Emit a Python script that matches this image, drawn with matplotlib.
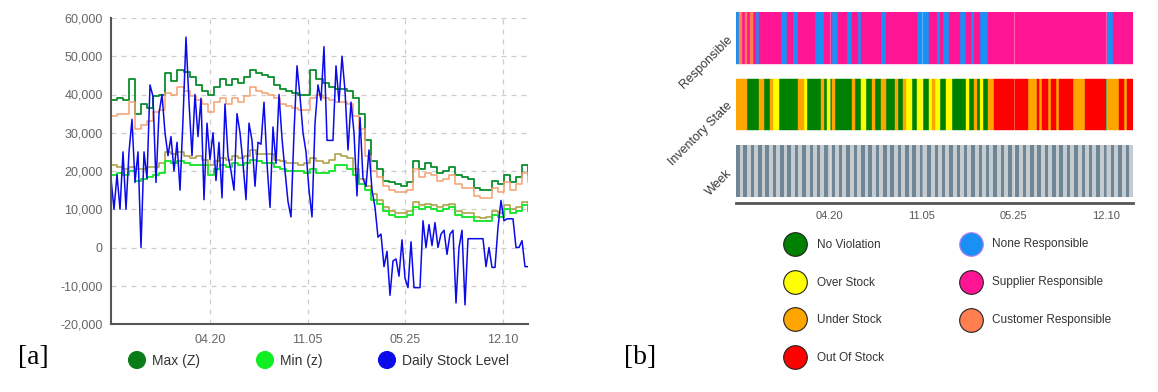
import numpy as np
import matplotlib
matplotlib.use('Agg')
import matplotlib.pyplot as plt
from matplotlib.ticker import FuncFormatter

plt.rcParams['font.family'] = ['Liberation Sans', 'DejaVu Sans']

# x axis ticks (shared by both panels)
tick_pos = [33, 65.5, 98, 130.5]
tick_labels = ['04.20', '11.05', '05.25', '12.10']

# daily stock level (one value per sample)
stock = [18000, 10000, 19000, 10000, 25000, 10000, 25000, 33500, 17000, 25000,
         0, 25000, 18000, 42500, 39500, 17000, 35000, 40000, 30000, 24000,
         29000, 20000, 27500, 15000, 33500, 55000, 38000, 24000, 40000, 29000,
         39000, 12500, 32500, 23000, 30000, 17500, 27500, 13000, 37500, 24000,
         20000, 15000, 35000, 30000, 22000, 12500, 32500, 28000, 16000, 27500,
         27000, 38000, 22000, 10500, 31500, 22000, 40000, 28500, 20000, 12000,
         8000, 30000, 47500, 39500, 30000, 25000, 15000, 8000, 32500, 42500,
         38500, 52500, 28000, 28000, 28000, 47500, 38000, 50000, 41000, 25500,
         38000, 30000, 13500, 34000, 18000, 16000, 25500, 15000, 10500, 2700,
         3500, -5000, -1000, -12500, -3500, -3000, -7500, 2000, -8000, -10500,
         1500, -10500, -10500, -10500, 7000, 0, 6000, 500, 6500, 0,
         3500, 4500, -1800, 3500, 4500, -14500, 0, 4500, -15000, 2300,
         2300, 2300, 2300, 2300, 2300, -5000, 0, -5200, -5200, 5300,
         12300, 7000, 7500, 7500, 7500, 0, 0, 1800, -5000, -5000]

# threshold lines (stepped)
max_z = [38500, 39000, 38500, 44000, 35000, 37500, 36500, 39500, 40000, 45500,
         43500, 46500, 46000, 44500, 42500, 41000, 40000, 42000, 44000, 42500,
         44000, 43000, 44500, 46500, 45500, 45000, 44500, 42500, 41500, 41000,
         40500, 40000, 40000, 46500, 44000, 43000, 42000, 41500, 41500, 41000,
         39000, 35000, 28000, 22500, 20500, 17500, 17000, 16500, 16000, 17000,
         22500, 20500, 22000, 21000, 19500, 20000, 21000, 19000, 18500, 18000,
         15500, 15000, 15000, 17500, 16500, 19000, 17000, 18500, 21500, 19000]
upper = [34500, 35000, 35000, 38000, 31000, 32000, 33000, 35500, 36000, 40500,
         40000, 42000, 41000, 39500, 38500, 37500, 35500, 38000, 39000, 37500,
         39000, 38000, 39500, 42000, 41000, 40500, 40000, 39000, 37500, 37000,
         36500, 36000, 36000, 39000, 40000, 39000, 38500, 38000, 38000, 37500,
         34500, 31000, 24000, 20000, 18500, 16000, 15000, 14500, 14500, 15000,
         20500, 18500, 19500, 19000, 17500, 18000, 19000, 16500, 15500, 15500,
         13500, 13000, 13000, 15500, 14500, 17000, 15000, 16500, 19500, 17000]
lower = [21500, 21000, 20500, 21000, 20500, 20500, 21000, 21000, 22000, 25000,
         24500, 25000, 24000, 23500, 24000, 23000, 21500, 22500, 23500, 23000,
         24000, 23500, 24000, 25500, 24500, 24500, 24500, 23000, 22500, 22000,
         22000, 21500, 22000, 23500, 22500, 22000, 23000, 24500, 24000, 23500,
         20500, 18000, 16000, 14000, 12500, 10500, 9500, 9000, 9000, 9500,
         12000, 11000, 11500, 11000, 10500, 11000, 11500, 9500, 9000, 9000,
         8000, 7800, 8000, 9500, 9000, 11000, 10000, 10500, 12000, 10500]
min_z = [19000, 19500, 19000, 20000, 17500, 18000, 18500, 19000, 19500, 22500,
         22000, 22500, 22000, 21500, 21500, 21500, 19000, 20500, 21500, 21000,
         22000, 21500, 22000, 23000, 22500, 22000, 22000, 21000, 20500, 20000,
         20000, 20000, 19500, 20500, 19500, 19500, 20000, 21500, 21500, 20500,
         19000, 16500, 15000, 12500, 11500, 9500, 8500, 8000, 8000, 8500,
         10500, 10000, 10500, 10000, 9500, 10000, 10500, 8500, 8000, 8000,
         7000, 6800, 7000, 8500, 8000, 10000, 9000, 9500, 11000, 9500]

# responsible row: N = none, S = supplier, C = customer (run lengths)
resp_codes = ['N', 'C', 'S', 'C', 'S', 'C', 'S', 'N', 'S', 'N', 'S', 'N', 'S',
              'N', 'S', 'N', 'S', 'N', 'S', 'N', 'S', 'N', 'S', 'N', 'S', 'N',
              'S', 'N', 'S', 'N', 'S', 'N', 'S', 'N', 'S', 'N', 'S']
resp_lens = [1, 1, 1, 1, 1, 1, 1, 1, 8, 2, 2, 2, 6, 3, 3, 2, 3, 2, 2, 1, 7,
             2, 11, 4, 3, 1, 1, 2, 4, 2, 2, 1, 2, 3, 42, 2, 7]

# inventory state row: G no violation, Y over, O under, R out of stock
inv_codes = ['O', 'G', 'O', 'G', 'O', 'Y', 'G', 'O', 'Y', 'G', 'O', 'G', 'Y',
             'G', 'O', 'G', 'O', 'G', 'Y', 'G', 'O', 'G', 'O', 'G', 'O', 'G',
             'O', 'Y', 'G', 'Y', 'G', 'Y', 'O', 'Y', 'G', 'Y', 'G', 'Y', 'G',
             'O', 'G', 'Y', 'G', 'O', 'R', 'O', 'R', 'O', 'R', 'O', 'R', 'O',
             'R', 'O', 'R', 'G', 'O', 'R', 'O', 'R']
inv_lens = [4, 4, 2, 2, 1, 2, 7, 2, 1, 5, 1, 1, 1, 1, 1, 6, 1, 2, 2, 2, 1, 2,
            2, 3, 1, 2, 1, 2, 2, 2, 2, 1, 1, 2, 2, 2, 5, 1, 2, 1, 1, 1, 2, 2,
            12, 3, 1, 1, 2, 1, 2, 1, 5, 4, 7, 1, 4, 2, 1, 2]

n_weeks = 54

resp_colors = {'N': '#1a90f5', 'S': '#ff1493', 'C': '#ff7f50'}
inv_colors = {'G': '#008000', 'Y': '#ffff00', 'O': '#ffa500', 'R': '#ff0000'}

fig = plt.figure(figsize=(11.58, 3.92), dpi=100)

# ---------------- panel a ----------------
ax = fig.add_axes([111 / 1158, 1 - 324 / 392, 417 / 1158, 306 / 392])
days = np.arange(len(stock))
thr_x = np.linspace(0, len(stock) - 1, len(max_z))

ax.plot(thr_x, max_z, drawstyle='steps-post', color='#0a8c2c', lw=1.3)
ax.plot(thr_x, upper, drawstyle='steps-post', color='#f4a070', lw=1.1)
ax.plot(thr_x, lower, drawstyle='steps-post', color='#a89c3a', lw=1.1)
ax.plot(thr_x, min_z, drawstyle='steps-post', color='#1ee632', lw=1.4)
ax.plot(days, stock, color='#0b0bea', lw=1.1)

ax.set_xlim(0, len(stock) - 1)
ax.set_ylim(-20000, 60000)
ax.set_yticks(np.arange(-20000, 60001, 10000))
ax.yaxis.set_major_formatter(FuncFormatter(lambda v, p: '{:,}'.format(int(v))))
ax.set_xticks(tick_pos)
ax.set_xticklabels(tick_labels)
ax.grid(True, color='#cccccc', linestyle=(0, (4, 4)), lw=0.9)
ax.set_axisbelow(True)
for s in ['top', 'right']:
    ax.spines[s].set_visible(False)
for s in ['left', 'bottom']:
    ax.spines[s].set_color('#555555')
    ax.spines[s].set_linewidth(1.5)
ax.tick_params(length=0, labelsize=9, labelcolor='#666666')
ax.tick_params(axis='x', pad=7)
ax.tick_params(axis='y', pad=6)

# ---------------- panel b ----------------
bx = fig.add_axes([736 / 1158, 1 - 203 / 392, 397 / 1158, 191 / 392])
n = sum(resp_lens)
h = 0.78

starts = np.concatenate([[0], np.cumsum(resp_lens)[:-1]])
for code, col in resp_colors.items():
    xr = [(s, l) for s, l, c in zip(starts, resp_lens, resp_codes) if c == code]
    bx.broken_barh(xr, (2 - h / 2, h), facecolors=col, edgecolor=col, lw=0.3)

starts = np.concatenate([[0], np.cumsum(inv_lens)[:-1]])
for code, col in inv_colors.items():
    xr = [(s, l) for s, l, c in zip(starts, inv_lens, inv_codes) if c == code]
    bx.broken_barh(xr, (1 - h / 2, h), facecolors=col, edgecolor=col, lw=0.3)

wk = n / n_weeks
bx.broken_barh([(0, n)], (-h / 2, h), facecolors='#c5cbcf')
bx.broken_barh([(w * wk, wk * 0.48) for w in range(n_weeks)], (-h / 2, h),
               facecolors='#6e8696')

for t in tick_pos:
    bx.axvline(t, color='white', alpha=0.3, lw=0.8)

bx.set_xlim(0, n)
bx.set_ylim(-0.48, 2.39)
bx.set_xticks(tick_pos)
bx.set_xticklabels(tick_labels)
bx.set_yticks([0, 1, 2])
bx.set_yticklabels(['Week', 'Inventory State', 'Responsible'],
                   rotation=45, ha='right', va='center', rotation_mode='anchor')
for s in ['top', 'right', 'left']:
    bx.spines[s].set_visible(False)
bx.spines['bottom'].set_color('#555555')
bx.spines['bottom'].set_linewidth(2)
bx.tick_params(length=0, labelsize=8, labelcolor='#555555')
bx.tick_params(axis='x', pad=6)
bx.tick_params(axis='y', labelsize=9, labelcolor='#3a3a3a', pad=4)

# ---------------- legends and panel labels ----------------
lg = fig.add_axes([0, 0, 1, 1], facecolor='none')
lg.set_xlim(0, 1158)
lg.set_ylim(392, 0)
lg.axis('off')

left_names = ['Max (Z)', 'Min (z)', 'Daily Stock Level']
left_cols = ['#0a7d1a', '#11ee22', '#0b0bea']
for x, name, col in zip([137, 265, 387], left_names, left_cols):
    lg.scatter([x], [360], s=170, color=col, edgecolors='none')
    lg.text(x + 15, 361, name, fontsize=10, color='#333333', va='center')

inv_names = ['No Violation', 'Over Stock', 'Under Stock', 'Out Of Stock']
for y, name, code in zip([244, 282, 319, 357], inv_names, ['G', 'Y', 'O', 'R']):
    lg.scatter([795], [y], s=290, color=inv_colors[code], edgecolors='#222222', linewidths=0.8)
    lg.text(817, y + 1, name, fontsize=8.5, color='#333333', va='center')

resp_names = ['None Responsible', 'Supplier Responsible', 'Customer Responsible']
resp_edges = ['#c080f0', '#222222', '#222222']
for y, name, code, ec in zip([244, 282, 320], resp_names, ['N', 'S', 'C'], resp_edges):
    lg.scatter([971], [y], s=290, color=resp_colors[code], edgecolors=ec, linewidths=0.8)
    lg.text(992, y, name, fontsize=8.5, color='#333333', va='center')

lg.text(18, 358, '[a]', fontsize=20, family=['Liberation Serif', 'DejaVu Serif'], va='center')
lg.text(624, 358, '[b]', fontsize=20, family=['Liberation Serif', 'DejaVu Serif'], va='center')

fig.savefig('out.png', dpi=100)
